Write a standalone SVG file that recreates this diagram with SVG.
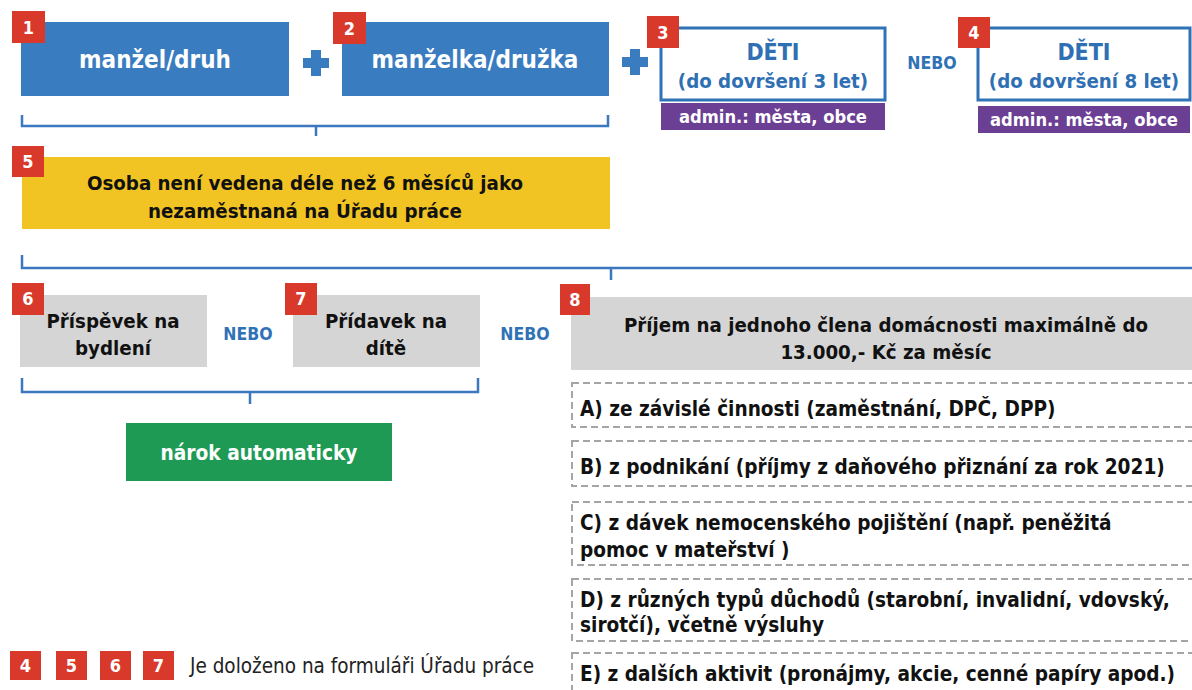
<svg xmlns="http://www.w3.org/2000/svg" width="1192" height="690" viewBox="0 0 1192 690">
<defs>
<style>
text{font-family:'DejaVu Sans Condensed','DejaVu Sans',sans-serif;font-stretch:condensed}
.badge{fill:#d8392b}
.bn{fill:#fff;font-weight:bold;font-size:18px;text-anchor:middle}
.blue{fill:#3a7cc0}
.wt{fill:#fff;font-weight:bold;font-size:24px;text-anchor:middle}
.outl{fill:#fff;stroke:#2f72b6;stroke-width:3}
.bt{fill:#2f6fb3;font-weight:bold;text-anchor:middle}
.purple{fill:#6b3f93}
.pt{fill:#fff;font-weight:bold;font-size:18.2px;text-anchor:middle}
.nebo{fill:#2f72b6;font-weight:bold;font-size:17.5px;text-anchor:middle}
.grey{fill:#d5d5d5}
.kt{fill:#111;font-weight:bold;font-size:20.3px;text-anchor:middle}
.dash{fill:#fff;stroke:#a5a5a5;stroke-width:2;stroke-dasharray:7 4}
.dt{fill:#111;font-weight:bold;font-size:20.6px}
.br{fill:none;stroke:#3b78c0;stroke-width:2.5}
.plus{fill:#3a7cc0}
</style>
</defs>
<rect width="1192" height="690" fill="#fff"/>

<g id="connectors">
<path class="br" d="M22,115 V126 H608 V115 M316,126 V136"/>
<path class="br" d="M22,255 V268 H1192 M611,268 V280"/>
<path class="br" d="M22,378 V392 H478 V378 M250,392 V404"/>
<path class="plus" d="M311,50 h10 v8 h8 v10 h-8 v8 h-10 v-8 h-8 v-10 h8 z"/>
<path class="plus" d="M630,49 h10 v8 h8 v10 h-8 v8 h-10 v-8 h-8 v-10 h8 z"/>
</g>

<g id="n1">
<rect class="blue" x="21" y="22" width="268" height="74"/>
<text class="wt" x="155" y="68">manžel/druh</text>
<rect class="badge" x="12" y="11" width="33" height="32"/>
<text class="bn" x="28.5" y="34">1</text>
</g>
<g id="n2">
<rect class="blue" x="342" y="22" width="267" height="74"/>
<text class="wt" x="475" y="68">manželka/družka</text>
<rect class="badge" x="333" y="12" width="33" height="32"/>
<text class="bn" x="349.5" y="35">2</text>
</g>
<g id="n3">
<rect class="outl" x="661" y="28" width="224" height="72"/>
<text class="bt" x="773" y="60" font-size="23">DĚTI</text>
<text class="bt" x="773" y="88" font-size="20.3">(do dovršení 3 let)</text>
<rect class="purple" x="661" y="103" width="224" height="27"/>
<text class="pt" x="773" y="123">admin.: města, obce</text>
<rect class="badge" x="647" y="16" width="32" height="32"/>
<text class="bn" x="663" y="39">3</text>
</g>
<text class="nebo" x="932" y="69">NEBO</text>
<g id="n4">
<rect class="outl" x="978" y="28" width="212" height="72"/>
<text class="bt" x="1084" y="60" font-size="23">DĚTI</text>
<text class="bt" x="1084" y="88" font-size="20.3">(do dovršení 8 let)</text>
<rect class="purple" x="978" y="106" width="212" height="27"/>
<text class="pt" x="1084" y="126">admin.: města, obce</text>
<rect class="badge" x="958" y="17" width="32" height="31"/>
<text class="bn" x="974" y="39">4</text>
</g>

<g id="n5">
<rect x="22" y="157" width="588" height="72" fill="#f1c423"/>
<text class="kt" x="305" y="190">Osoba není vedena déle než 6 měsíců jako</text>
<text class="kt" x="305" y="218">nezaměstnaná na Úřadu práce</text>
<rect class="badge" x="12" y="146" width="32" height="31"/>
<text class="bn" x="28" y="168">5</text>
</g>

<g id="n6">
<rect class="grey" x="20" y="295" width="187" height="72"/>
<text class="kt" x="113" y="328">Příspěvek na</text>
<text class="kt" x="113" y="355">bydlení</text>
<rect class="badge" x="12" y="283" width="32" height="32"/>
<text class="bn" x="28" y="305">6</text>
</g>
<text class="nebo" x="248" y="340">NEBO</text>
<g id="n7">
<rect class="grey" x="293" y="295" width="187" height="72"/>
<text class="kt" x="386" y="328">Přídavek na</text>
<text class="kt" x="386" y="355">dítě</text>
<rect class="badge" x="285" y="283" width="32" height="32"/>
<text class="bn" x="301" y="305">7</text>
</g>
<text class="nebo" x="525" y="340">NEBO</text>
<g id="n8">
<rect class="grey" x="571" y="297" width="621" height="73"/>
<text class="kt" x="886" y="332">Příjem na jednoho člena domácnosti maximálně do</text>
<text class="kt" x="886" y="359">13.000,- Kč za měsíc</text>
<rect class="badge" x="560" y="284" width="30" height="31"/>
<text class="bn" x="575" y="306">8</text>
</g>

<g id="n9">
<rect x="126" y="423" width="266" height="58" fill="#1f9a55"/>
<text x="259" y="460" fill="#fff" font-weight="bold" font-size="20.7" text-anchor="middle">nárok automaticky</text>
</g>

<g id="nA">
<rect class="dash" x="572" y="383" width="640" height="44"/>
<text class="dt" x="580" y="416">A) ze závislé činnosti (zaměstnání, DPČ, DPP)</text>
</g>
<g id="nB">
<rect class="dash" x="572" y="441" width="640" height="45"/>
<text class="dt" x="580" y="474">B) z podnikání (příjmy z daňového přiznání za rok 2021)</text>
</g>
<g id="nC">
<rect class="dash" x="572" y="502" width="640" height="63"/>
<text class="dt" x="580" y="530">C) z dávek nemocenského pojištění (např. peněžitá</text>
<text class="dt" x="580" y="557">pomoc v mateřství )</text>
</g>
<g id="nD">
<rect class="dash" x="572" y="579" width="640" height="62"/>
<text class="dt" x="580" y="607">D) z různých typů důchodů (starobní, invalidní, vdovský,</text>
<text class="dt" x="580" y="632">sirotčí), včetně výsluhy</text>
</g>
<g id="nE">
<rect class="dash" x="572" y="653" width="640" height="45"/>
<text class="dt" x="580" y="681">E) z dalších aktivit (pronájmy, akcie, cenné papíry apod.)</text>
</g>

<g id="legend">
<rect class="badge" x="10" y="651" width="31" height="29"/>
<text class="bn" x="25.5" y="672">4</text>
<rect class="badge" x="56" y="651" width="31" height="29"/>
<text class="bn" x="71.5" y="672">5</text>
<rect class="badge" x="100" y="651" width="31" height="29"/>
<text class="bn" x="115.5" y="672">6</text>
<rect class="badge" x="143" y="651" width="31" height="29"/>
<text class="bn" x="158.5" y="672">7</text>
<text x="190" y="673" fill="#222" font-size="20.5">Je doloženo na formuláři Úřadu práce</text>
</g>
</svg>
